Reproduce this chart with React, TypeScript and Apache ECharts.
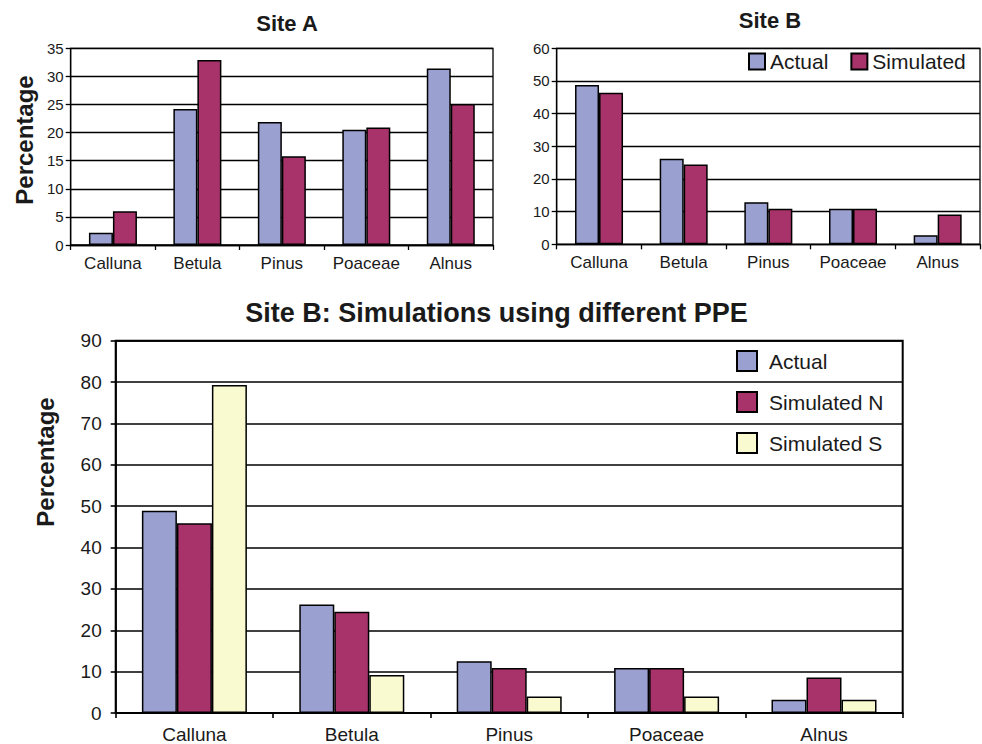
import React, { useEffect, useRef } from "react";
import * as echarts from "echarts";

const categories = ["Calluna", "Betula", "Pinus", "Poaceae", "Alnus"];
const siteAActual = [2.2, 24.2, 21.9, 20.5, 31.4];
const siteASimulated = [6.0, 32.9, 15.8, 20.9, 25.1];
const siteBActual = [48.8, 26.2, 12.9, 10.9, 2.8];
const siteBSimulated = [46.4, 24.4, 10.9, 10.9, 9.1];
const ppeActual = [48.9, 26.2, 12.5, 10.9, 3.2];
const ppeSimN = [45.9, 24.5, 10.9, 10.9, 8.6];
const ppeSimS = [79.3, 9.2, 4.0, 4.0, 3.2];

const FONT = "'Liberation Sans', Arial, sans-serif";
const C_ACTUAL = "#9aa0d0";
const C_SIM = "#a8336b";
const C_SIMS = "#fafad0";
const TXT = "#1a1a1a";

export default function App() {
  const ref = useRef<HTMLDivElement>(null);
  useEffect(() => {
    if (!ref.current) return;
    const chart = echarts.init(ref.current, undefined, { renderer: "svg" });

    const yAxis = (gi: number, max: number, interval: number, fs: number, margin: number, lw: number) => ({
      type: "value",
      gridIndex: gi,
      min: 0,
      max,
      interval,
      axisLine: { show: true, lineStyle: { color: "#000", width: lw } },
      axisTick: { show: true, length: 5, lineStyle: { color: "#000", width: lw } },
      axisLabel: { fontSize: fs, color: TXT, fontFamily: FONT, margin },
      splitLine: { show: true, lineStyle: { color: "#000", width: lw } },
    });
    const xAxis = (gi: number, fs: number, margin: number, lw: number) => ({
      type: "category",
      gridIndex: gi,
      data: categories,
      axisLine: { show: true, lineStyle: { color: "#000", width: lw } },
      axisTick: { show: true, length: 5, interval: 0, lineStyle: { color: "#000", width: lw } },
      axisLabel: { fontSize: fs, color: TXT, fontFamily: FONT, margin, interval: 0 },
    });
    const bar = (name: string, data: number[], gi: number, color: string, w: number) => ({
      type: "bar",
      name,
      data,
      xAxisIndex: gi,
      yAxisIndex: gi,
      barWidth: w,
      barGap: "0%",
      itemStyle: { color, borderColor: "#000", borderWidth: 1.5 },
    });

    chart.setOption({
      animation: false,
      backgroundColor: "#fff",
      grid: [
        { left: 70.7, top: 48.3, width: 422.3, height: 196.7, show: true, borderColor: "#000", borderWidth: 1.3, backgroundColor: "transparent" },
        { left: 556.7, top: 48.3, width: 423.3, height: 196, show: true, borderColor: "#000", borderWidth: 1.3, backgroundColor: "transparent" },
        { left: 115.7, top: 340.7, width: 787, height: 372.6, show: true, borderColor: "#000", borderWidth: 2, backgroundColor: "transparent" },
      ],
      xAxis: [xAxis(0, 17, 10, 1.3), xAxis(1, 17, 10, 1.3), xAxis(2, 19, 12, 1.6)],
      yAxis: [yAxis(0, 35, 5, 15, 7, 1.3), yAxis(1, 60, 10, 15, 7, 1.3), yAxis(2, 90, 10, 19, 14, 1.6)],
      legend: [
        {
          data: ["Actual", "Simulated"],
          left: 743,
          top: 46,
          itemWidth: 16,
          itemHeight: 16,
          itemGap: 22,
          icon: "rect",
          textStyle: { fontSize: 21, color: TXT, fontFamily: FONT },
        },
        {
          data: ["Actual", "Simulated N", "Simulated S"],
          orient: "vertical",
          left: 731,
          top: 345,
          itemWidth: 20,
          itemHeight: 20,
          itemGap: 19,
          icon: "rect",
          textStyle: { fontSize: 21, color: TXT, fontFamily: FONT, padding: [0, 0, 0, 7] },
        },
      ],
      series: [
        bar("Actual", siteAActual, 0, C_ACTUAL, 24),
        bar("Simulated", siteASimulated, 0, C_SIM, 24),
        bar("Actual", siteBActual, 1, C_ACTUAL, 24),
        bar("Simulated", siteBSimulated, 1, C_SIM, 24),
        bar("Actual", ppeActual, 2, C_ACTUAL, 35),
        bar("Simulated N", ppeSimN, 2, C_SIM, 35),
        bar("Simulated S", ppeSimS, 2, C_SIMS, 35),
      ],
      graphic: [
        { type: "text", x: 287, y: 23, style: { text: "Site A", font: `bold 22px ${FONT}`, fill: TXT, textAlign: "center", textVerticalAlign: "middle" } },
        { type: "text", x: 770, y: 20, style: { text: "Site B", font: `bold 22px ${FONT}`, fill: TXT, textAlign: "center", textVerticalAlign: "middle" } },
        { type: "text", x: 496.5, y: 313, style: { text: "Site B: Simulations using different PPE", font: `bold 27px ${FONT}`, fill: TXT, textAlign: "center", textVerticalAlign: "middle" } },
        { type: "text", x: 24, y: 140, rotation: Math.PI / 2, style: { text: "Percentage", font: `bold 24px ${FONT}`, fill: TXT, textAlign: "center", textVerticalAlign: "middle" } },
        { type: "text", x: 45, y: 462, rotation: Math.PI / 2, style: { text: "Percentage", font: `bold 24px ${FONT}`, fill: TXT, textAlign: "center", textVerticalAlign: "middle" } },
      ],
    });
    return () => chart.dispose();
  }, []);
  return <div ref={ref} style={{ position: "fixed", left: 0, top: 0, width: 982, height: 744 }} />;
}
